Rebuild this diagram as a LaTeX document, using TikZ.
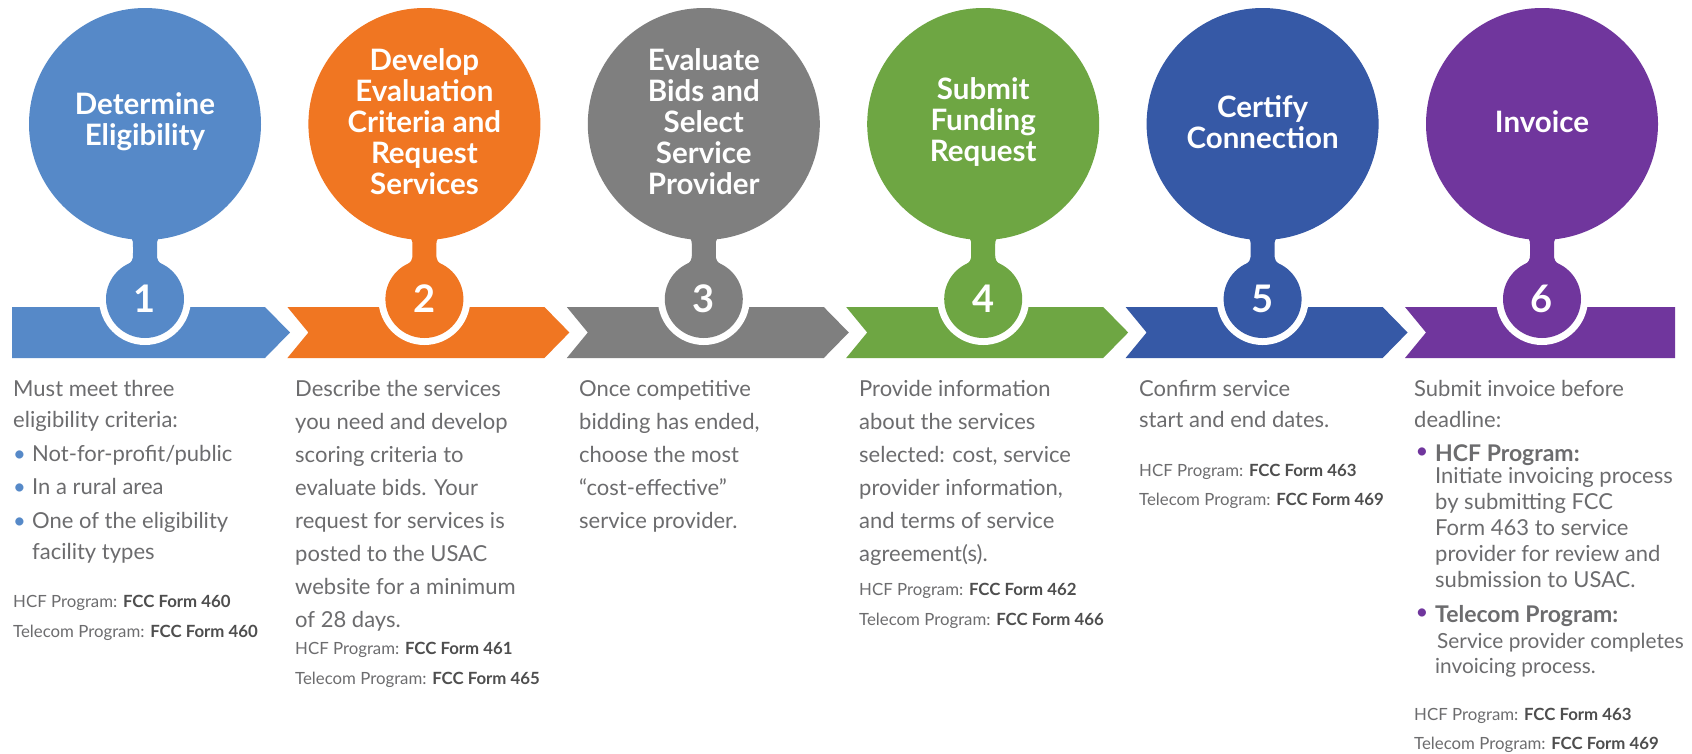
\documentclass[tikz,border=0pt]{standalone}
\usepackage{fontspec}
\setmainfont{Lato}
\definecolor{cA}{RGB}{86,137,200}
\definecolor{cB}{RGB}{240,118,34}
\definecolor{cC}{RGB}{127,127,127}
\definecolor{cD}{RGB}{110,166,67}
\definecolor{cE}{RGB}{54,89,166}
\definecolor{cF}{RGB}{112,54,157}
\definecolor{txt}{RGB}{108,108,110}
\definecolor{txtb}{RGB}{78,78,78}
\newcommand\bodyfont{\fontsize{22}{31.5}\selectfont\raggedright}
\newcommand\bodyfontb{\fontsize{22}{33}\selectfont\raggedright}
\newcommand\formb[1]{\textbf{\textcolor{txtb}{#1}}}
\newcommand\bitem[2]{\par\vspace{2pt}\hangindent=19pt\hangafter=1\noindent\makebox[19pt][l]{\textcolor{#1}{\textbullet}}#2\par}
\tikzset{
  ttl/.style={text=white, font=\bfseries\fontsize{29.5}{31}\selectfont, align=center, inner sep=0},
  num/.style={text=white, font=\bfseries\fontsize{38}{40}\selectfont, inner sep=0},
  body/.style={anchor=base west, inner sep=0, text=txt},
  form/.style={anchor=base west, inner sep=0, text=txt, font=\fontsize{16.8}{20}\selectfont},
  head/.style={anchor=base west, inner sep=0, text=txt, font=\bfseries\fontsize{23}{26}\selectfont},
}
\begin{document}
\begin{tikzpicture}[x=1pt,y=-1pt]
\fill[white] (0,0) rectangle (1692,753);
\useasboundingbox (0,0) rectangle (1692,753);
% chevron band
\fill[cA] (12,307) -- (265,307) -- (290,332.5) -- (265,358) -- (12,358) -- cycle;
\foreach \i/\c in {2/cB,3/cC,4/cD,5/cE}{
  \pgfmathsetmacro\d{279.4*(\i-1)}
  \fill[\c] (8+\d,307) -- (265+\d,307) -- (290+\d,332.5) -- (265+\d,358) -- (8+\d,358) -- (29+\d,332.5) -- cycle;
}
\fill[cF] (1405,307) -- (1675,307) -- (1675,358) -- (1405,358) -- (1426,332.5) -- cycle;
% circles
\foreach \i/\c in {1/cA,2/cB,3/cC,4/cD,5/cE,6/cF}{
  \pgfmathsetmacro\cx{145+279.4*(\i-1)}
  \fill[white] (\cx,299) circle[radius=46];
  \fill[\c] (\cx,124) circle[radius=116];
  \fill[\c] (\cx-22,235) .. controls (\cx-12,238) .. (\cx-12,247) -- (\cx-12,253)
     .. controls (\cx-12,261) .. (\cx-22,268) -- (\cx+22,268)
     .. controls (\cx+12,261) .. (\cx+12,253) -- (\cx+12,247)
     .. controls (\cx+12,238) .. (\cx+22,235) -- cycle;
  \fill[\c] (\cx,299) circle[radius=39];
  \node[num] (n\i) at (\cx,299) {\i};
}
% titles
\node[ttl] (h1) at (145,122) {Determine\\Eligibility};
\node[ttl] (h2) at (424.4,122) {Develop\\Evaluation\\Criteria and\\Request\\Services};
\node[ttl] (h3) at (703.8,122) {Evaluate\\Bids and\\Select\\Service\\Provider};
\node[ttl] (h4) at (983.2,122) {Submit\\Funding\\Request};
\node[ttl] (h5) at (1262.6,122) {Certify\\Connection};
\node[ttl] (h6) at (1542,122) {Invoice};
% column texts
\node[body] (t1) at (13,396) {\parbox[t]{270pt}{\bodyfont Must meet three\\eligibility criteria:\bitem{cA}{Not-for-profit/public}\bitem{cA}{In a rural area}\bitem{cA}{One of the eligibility\newline facility types}}};
\node[form] (f1a) at (13,607) {HCF Program: \formb{FCC Form 460}};
\node[form] (f1b) at (13,637) {Telecom Program: \formb{FCC Form 460}};

\node[body] (t2) at (295,396) {\parbox[t]{270pt}{\bodyfontb Describe the services\\you need and develop\\scoring criteria to\\evaluate bids. Your\\request for services is\\posted to the USAC\\website for a minimum\\of 28 days.}};
\node[form] (f2a) at (295,654) {HCF Program: \formb{FCC Form 461}};
\node[form] (f2b) at (295,684) {Telecom Program: \formb{FCC Form 465}};

\node[body] (t3) at (579,396) {\parbox[t]{270pt}{\bodyfontb Once competitive\\bidding has ended,\\choose the most\\“cost-effective”\\service provider.}};

\node[body] (t4) at (859,396) {\parbox[t]{270pt}{\bodyfontb Provide information\\about the services\\selected: cost, service\\provider information,\\and terms of service\\agreement(s).}};
\node[form] (f4a) at (859,595) {HCF Program: \formb{FCC Form 462}};
\node[form] (f4b) at (859,625) {Telecom Program: \formb{FCC Form 466}};

\node[body] (t5) at (1139,396) {\parbox[t]{270pt}{\bodyfont Confirm service\\start and end dates.}};
\node[form] (f5a) at (1139,476) {HCF Program: \formb{FCC Form 463}};
\node[form] (f5b) at (1139,505) {Telecom Program: \formb{FCC Form 469}};

\node[body] (t6) at (1414,396) {\parbox[t]{270pt}{\bodyfont Submit invoice before\\deadline:}};
\node[body, anchor=base] (d6a) at (1422,458) {\fontsize{22}{26}\selectfont\textcolor{cF}{\textbullet}};
\node[head] (b6a) at (1435,461) {HCF Program:};
\node[body] (t6a) at (1435,483) {\parbox[t]{300pt}{\fontsize{22}{26}\selectfont\raggedright Initiate invoicing process\\by submitting FCC\\Form 463 to service\\provider for review and\\submission to USAC.}};
\node[body, anchor=base] (d6b) at (1422,619) {\fontsize{22}{26}\selectfont\textcolor{cF}{\textbullet}};
\node[head] (b6b) at (1435,622) {Telecom Program:};
\node[body] (t6b) at (1435,648) {\parbox[t]{300pt}{\fontsize{20.8}{25}\selectfont\raggedright\hspace{2pt}Service provider completes\\invoicing process.}};
\node[form] (f6a) at (1414,720) {HCF Program: \formb{FCC Form 463}};
\node[form] (f6b) at (1414,749) {Telecom Program: \formb{FCC Form 469}};
\end{tikzpicture}
\end{document}
